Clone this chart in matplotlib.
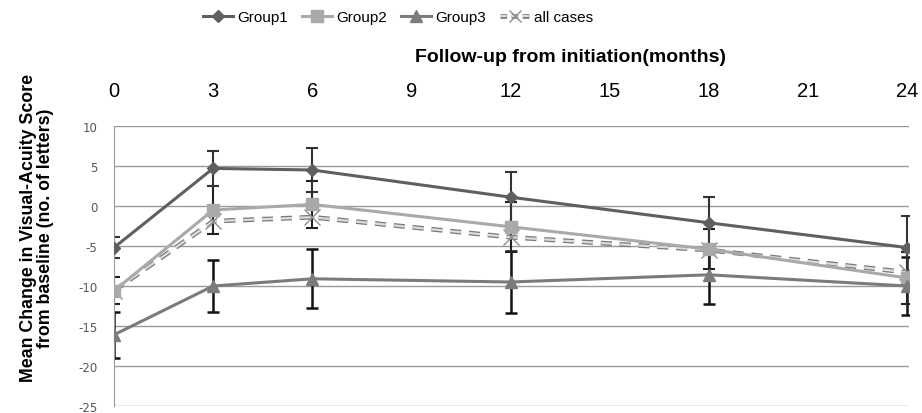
import matplotlib
matplotlib.use("Agg")
import matplotlib.pyplot as plt
import matplotlib.patheffects as pe
from matplotlib.lines import Line2D

months = [0, 3, 6, 12, 18, 24]
group1 = [-5.2, 4.7, 4.5, 1.1, -2.1, -5.2]
group2 = [-10.6, -0.5, 0.2, -2.6, -5.4, -9.0]
group3 = [-16.1, -10.0, -9.1, -9.5, -8.6, -10.0]
all_cases = [-10.6, -1.9, -1.4, -3.9, -5.5, -8.3]
err1 = [1.3, 2.2, 2.7, 3.1, 3.2, 3.9]
err2 = [1.7, 3.0, 2.9, 3.1, 2.5, 3.3]
err3 = [2.9, 3.3, 3.7, 3.9, 3.6, 3.6]
xticks = [0, 3, 6, 9, 12, 15, 18, 21, 24]
yticks = [-25, -20, -15, -10, -5, 0, 5, 10]

font = "Liberation Sans"

fig = plt.figure(figsize=(9.22, 4.14), dpi=100)
ax = fig.add_axes([114/922, 7/414, (909-114)/922, 280/414])

c1, c2, c3, c4 = "#5f5f5f", "#a9a9a9", "#7b7b7b", "#8f8f8f"
dash_fx = [pe.Stroke(linewidth=3.4, foreground="#7a7a7a"), pe.Normal()]

ax.errorbar(months, group3, yerr=err3, fmt="none", ecolor="#111111", elinewidth=1.8, capsize=4, capthick=1.8, zorder=2)
ax.errorbar(months, group2, yerr=err2, fmt="none", ecolor="#222222", elinewidth=1.5, capsize=4, capthick=1.5, zorder=2)
ax.errorbar(months, group1, yerr=err1, fmt="none", ecolor="#333333", elinewidth=1.5, capsize=4, capthick=1.5, zorder=2)

ax.plot(months, group1, color=c1, lw=2.2, marker="D", ms=6, zorder=5)
ax.plot(months, group2, color=c2, lw=2.2, marker="s", ms=8, zorder=4)
ax.plot(months, group3, color=c3, lw=2.2, marker="^", ms=8, zorder=4)
ax.plot(months, all_cases, color="#dcdcdc", lw=1.6, dashes=(5, 3.5), path_effects=dash_fx, zorder=3)
ax.plot(months, all_cases, ls="none", marker="x", ms=11, mec=c4, mew=1.0, zorder=3.5)

ax.set_xlim(0, 24.05)
ax.set_ylim(-25, 10)
ax.set_yticks(yticks)
ax.set_yticklabels([str(v) for v in yticks], fontsize=8.5, color="#555555", family="DejaVu Sans")
ax.xaxis.tick_top()
ax.set_xticks(xticks)
ax.set_xticklabels([str(v) for v in xticks], fontsize=14.5, family=font)
ax.tick_params(axis="both", length=0)
ax.tick_params(axis="x", pad=19)
ax.tick_params(axis="y", pad=12)
ax.grid(axis="y", color="#9a9a9a", lw=1)
ax.set_axisbelow(True)
for s in ["top", "right", "bottom"]:
    ax.spines[s].set_visible(False)
ax.spines["left"].set_color("#9a9a9a")

fig.text(570/922, 1 - 58/414, "Follow-up from initiation(months)", ha="center", va="center",
         fontsize=14, fontweight="bold", family=font)
fig.text(37/922, 1 - 228/414, "Mean Change in Visual-Acuity Score\nfrom baseline (no. of letters)",
         rotation=90, ha="center", va="center", fontsize=12.8, fontweight="bold", family=font,
         linespacing=1.0)

handles = [
    Line2D([], [], color=c1, lw=2.2, marker="D", ms=6),
    Line2D([], [], color=c2, lw=2.2, marker="s", ms=8),
    Line2D([], [], color=c3, lw=2.2, marker="^", ms=8),
    (Line2D([], [], color="#dcdcdc", lw=1.6, dashes=(3, 2), path_effects=dash_fx),
     Line2D([], [], ls="none", marker="x", ms=9, mec=c4, mew=1.0)),
]
fig.legend(handles, ["Group1", "Group2", "Group3", "all cases"], loc="center", bbox_to_anchor=(398/922, 1 - 18/414),
           ncol=4, frameon=False, prop={"family": font, "size": 11}, handlelength=2.0, handletextpad=0.25,
           columnspacing=0.9)

fig.savefig("out.png", dpi=100)
